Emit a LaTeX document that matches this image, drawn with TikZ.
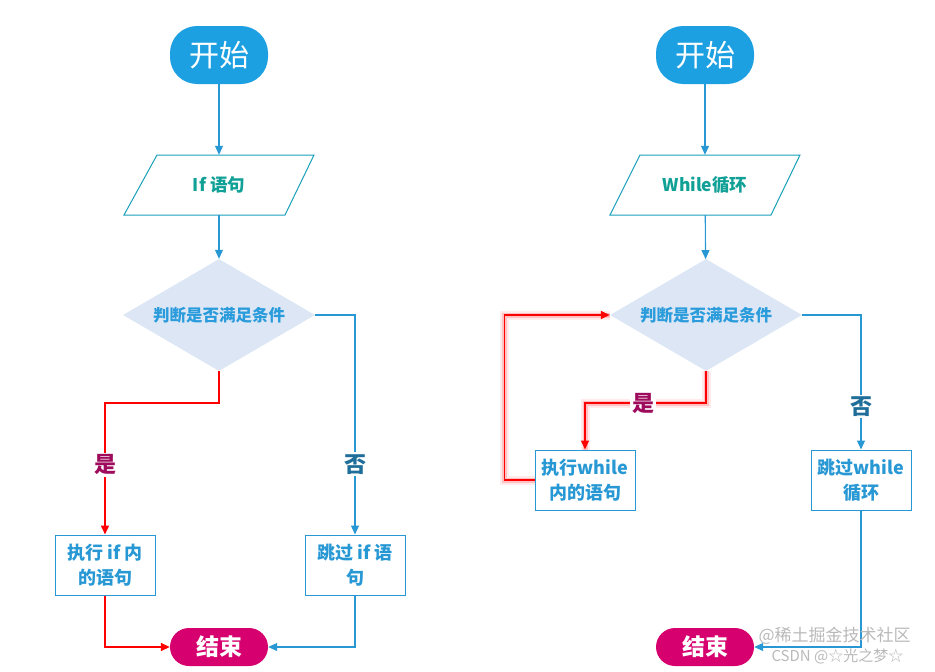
\documentclass[tikz,border=0pt]{standalone}
\usepackage{fontspec}
\setmainfont{Noto Sans CJK SC}
\usetikzlibrary{shapes.geometric,arrows.meta}
\definecolor{startblue}{RGB}{29,160,226}
\definecolor{endmag}{RGB}{214,0,110}
\definecolor{flowblue}{RGB}{40,152,212}
\definecolor{paracol}{RGB}{24,160,184}
\definecolor{paratext}{RGB}{16,160,150}
\definecolor{diafill}{RGB}{220,230,245}
\definecolor{diatext}{RGB}{42,155,219}
\definecolor{yescol}{RGB}{158,11,92}
\definecolor{nocol}{RGB}{31,110,154}
\tikzset{
  startnode/.style={rectangle, rounded corners=27pt, fill=startblue, text=white,
    minimum width=98pt, minimum height=58pt, inner sep=0pt,
    font=\fontsize{30}{32}\selectfont},
  endnode/.style={rectangle, rounded corners=19pt, fill=endmag, text=white,
    minimum width=98pt, minimum height=38pt, inner sep=0pt,
    font=\bfseries\fontsize{23}{25}\selectfont},
  paranode/.style={rectangle, minimum width=130pt, minimum height=60pt, inner sep=0pt,
    text=paratext, font=\bfseries\fontsize{17.5}{20}\selectfont},
  parashape/.style={draw=paracol, line width=1pt},
  decision/.style={diamond, aspect=1.714, fill=diafill, minimum width=192pt, minimum height=112pt,
    inner sep=0pt, text=diatext, font=\bfseries\fontsize{16.5}{18}\selectfont},
  actbox/.style={rectangle, draw=flowblue, line width=1pt, minimum width=100pt,
    minimum height=60pt, inner sep=2pt, align=center, text=flowblue,
    font=\bfseries\fontsize{18}{25}\selectfont},
  flow/.style={draw=flowblue, line width=1.1pt, -{Triangle[length=9pt,width=8pt]}},
  redflow/.style={draw=red, line width=1.5pt, -{Triangle[length=9pt,width=8pt]}},
  glow/.style={preaction={draw=red, line width=9pt, opacity=0.08, -},
               preaction={draw=red, line width=5pt, opacity=0.18, -}},
  yeslab/.style={fill=white, inner sep=2pt, text=yescol, font=\bfseries\fontsize{22}{24}\selectfont},
  nolab/.style={fill=white, inner sep=2pt, text=nocol, font=\bfseries\fontsize{22}{24}\selectfont}
}
\begin{document}
\begin{tikzpicture}[x=1pt,y=-1pt]
\useasboundingbox (0,0) rectangle (935,672);
% ---------------- left: if ----------------
\node[startnode] (s1) at (219,55) {开始};
\draw[parashape] (157,155) -- (314,155) -- (285,215) -- (124,215) -- cycle;
\node[paranode] (p1) at (219,185) {If 语句};
\node[decision] (d1) at (219,315) {判断是否满足条件};
\node[actbox] (b1) at (105,565) {执行 if 内\\的语句};
\node[actbox] (b2) at (355,565) {跳过 if 语\\句};
\node[endnode] (e1) at (219,647) {结束};
\draw[flow] (s1) -- (p1);
\draw[flow] (p1) -- (d1);
\draw[redflow] (d1.south) -- ++(0,32) -| node[pos=0.735, yeslab] {是} (b1.north);
\draw[redflow] (b1.south) |- (e1.west);
\draw[flow] (d1.east) -| node[pos=0.84, nolab] {否} (b2.north);
\draw[flow] (b2.south) |- (e1.east);
% ---------------- right: while ----------------
\node[startnode] (s2) at (705,55) {开始};
\draw[parashape] (640,155) -- (800,155) -- (771,215) -- (610,215) -- cycle;
\node[paranode] (p2) at (705,185) {While循环};
\node[decision] (d2) at (706,315) {判断是否满足条件};
\node[actbox] (b3) at (585,480) {执行while\\内的语句};
\node[actbox] (b4) at (861,480) {跳过while\\循环};
\node[endnode] (e2) at (705,647) {结束};
\draw[flow] (s2) -- (p2);
\draw[flow] (p2) -- (d2);
\draw[redflow, glow] (d2.south) -- ++(0,32) -| node[pos=0.26, yeslab] {是} (b3.north);
\draw[redflow, glow] (b3.west) -- ++(-30,0) |- (d2.west);
\draw[flow] (d2.east) -| node[pos=0.84, nolab] {否} (b4.north);
\draw[flow] (b4.south) |- (e2.east);
% watermark
\node[text=gray!55, font=\fontsize{17}{19}\selectfont, anchor=west] (w1) at (755,636) {@稀土掘金技术社区};
\node[text=gray!55, font=\fontsize{15}{17}\selectfont, anchor=west] (w2) at (768,656) {CSDN @☆光之梦☆};
\end{tikzpicture}
\end{document}
